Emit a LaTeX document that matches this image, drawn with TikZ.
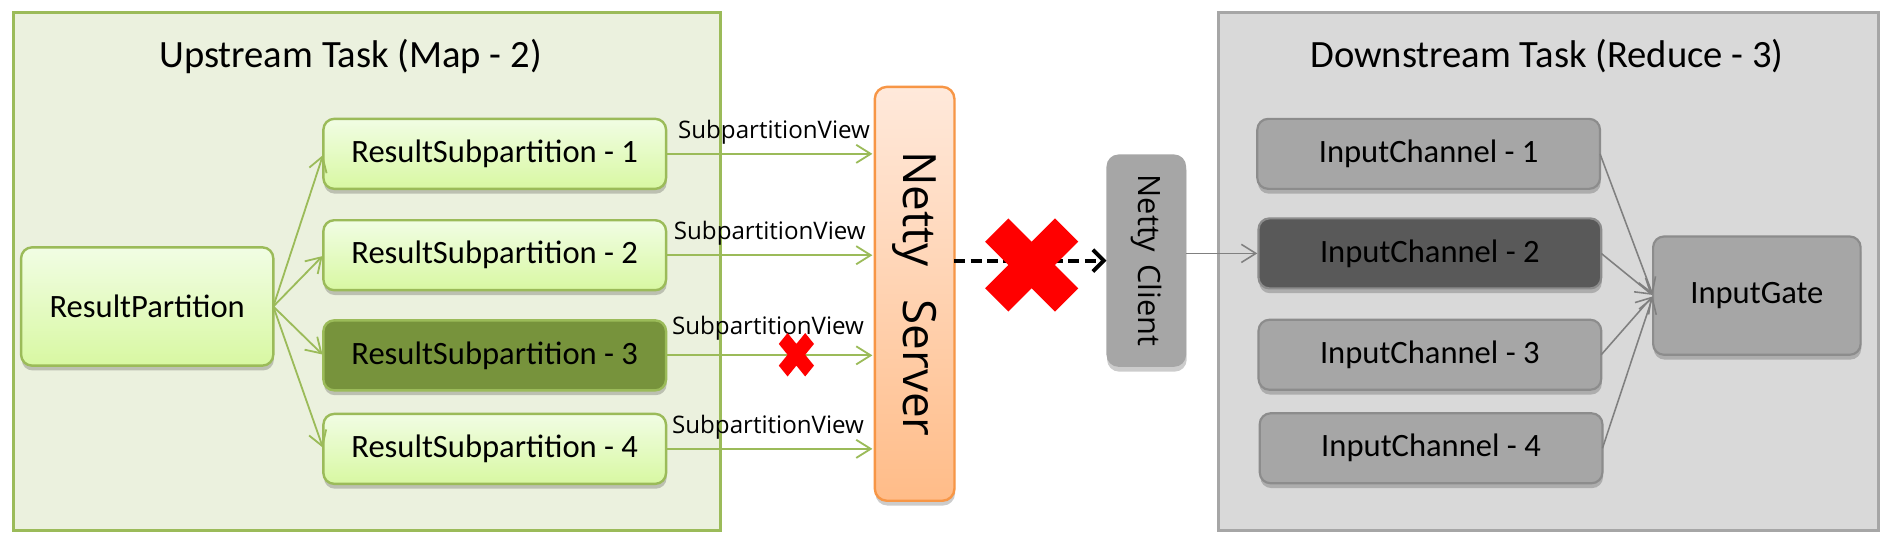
\documentclass[tikz,border=0pt]{standalone}
\usepackage{fontspec}
\setmainfont{Carlito}
\newfontfamily\osans{Open Sans}
\usetikzlibrary{arrows.meta,shadows,calc}
\definecolor{upbg}{HTML}{EBF1DE}
\definecolor{upln}{HTML}{9BBB59}
\definecolor{gtop}{HTML}{F1FDE4}
\definecolor{gbot}{HTML}{D8F8A2}
\definecolor{gdark}{HTML}{77933C}
\definecolor{otop}{HTML}{FFE9DB}
\definecolor{obot}{HTML}{FFBC88}
\definecolor{oln}{HTML}{F79646}
\definecolor{dnbg}{HTML}{D9D9D9}
\definecolor{dnln}{HTML}{A6A6A6}
\definecolor{grayfill}{HTML}{A6A6A6}
\definecolor{graydark}{HTML}{595959}
\definecolor{grayln}{HTML}{8C8C8C}
\definecolor{grayar}{HTML}{808080}
\begin{document}
\begin{tikzpicture}[x=1pt,y=-1pt,
  every node/.style={inner sep=0pt,outer sep=0pt},
  container/.style={line width=2.5pt},
  tasktitle/.style={font=\fontsize{32}{38}\selectfont, anchor=base},
  boxshadow/.style={drop shadow={shadow xshift=0.5pt,shadow yshift=-4pt,opacity=0.2,fill=black}},
  boxtext/.style={font=\fontsize{27}{32}\selectfont},
  gboxbase/.style={draw=upln, line width=2pt, rounded corners=9pt, boxshadow, boxtext},
  gbox/.style={gboxbase, top color=gtop, bottom color=gbot},
  gdbox/.style={gboxbase, fill=gdark},
  subbox/.style={minimum width=284pt, minimum height=58pt},
  cbox/.style={draw=grayln, line width=1.8pt, rounded corners=9pt, boxshadow, boxtext, fill=grayfill},
  cdbox/.style={cbox, fill=graydark},
  svlabel/.style={font=\osans\fontsize{20}{24}\selectfont, anchor=base west},
  garrow/.style={draw=upln, line width=1.5pt, -{Straight Barb[length=12pt,width=15pt]}},
  grarrow/.style={draw=grayar, line width=1.3pt, -{Straight Barb[length=12pt,width=15pt]}},
  dasharrow/.style={draw=black, line width=3.2pt, dash pattern=on 9pt off 4.5pt, -{Straight Barb[length=9pt,width=18pt]}},
]
\useasboundingbox (0,0) rectangle (1568,455.8);
\fill[white] (0,0) rectangle (1568,455.8);

% containers
\node[container, draw=upln, fill=upbg, minimum width=586pt, minimum height=430pt] (up) at (304,225) {};
\node[container, draw=dnln, fill=dnbg, minimum width=547pt, minimum height=430pt] (down) at (1283,225) {};
\node[tasktitle] (uptitle) at (290.5,56) {Upstream Task (Map - 2)};
\node[tasktitle] (downtitle) at (1282,56) {Downstream Task (Reduce - 3)};

% upstream nodes
\node[gbox, minimum width=209pt, minimum height=98pt] (rp) at (122,254) {ResultPartition};
\node[gbox, subbox] (r1) at (410,127.5) {ResultSubpartition - 1};
\node[gbox, subbox] (r2) at (410,211.5) {ResultSubpartition - 2};
\node[gdbox, subbox] (r3) at (410,294.5) {ResultSubpartition - 3};
\node[gbox, subbox] (r4) at (410,372) {ResultSubpartition - 4};

% netty
\node[draw=oln, line width=2pt, rounded corners=10pt, top color=otop, bottom color=obot, boxshadow,
  minimum width=66pt, minimum height=343pt,
  label={[rotate=-90, font=\osans\fontsize{38}{44}\selectfont]center:Netty\hspace{27pt}Server}] (ns) at (758,243.5) {};
\node[fill=grayfill, rounded corners=10pt, boxshadow,
  minimum width=66pt, minimum height=176pt,
  label={[rotate=-90, font=\osans\fontsize{25.5}{30}\selectfont]center:Netty\hspace{10pt}Client}] (nc) at (950,216) {};

% downstream nodes
\node[cbox, subbox] (ic1) at (1184,127.5) {InputChannel - 1};
\node[cdbox, subbox] (ic2) at (1185,210) {InputChannel - 2};
\node[cbox, subbox] (ic3) at (1185,294) {InputChannel - 3};
\node[cbox, subbox] (ic4) at (1186,371.5) {InputChannel - 4};
\node[cbox, minimum width=172pt, minimum height=98pt] (ig) at (1456,245) {InputGate};

% upstream connectors
\foreach \r in {r1,r2,r3,r4}{
  \draw[garrow, shorten >=1pt] (rp.east) -- (\r.west);
}
\draw[garrow, shorten >=2pt] (r1.east) -- (r1.east -| ns.west);
\draw[garrow, shorten >=2pt] (r2.east) -- (r2.east -| ns.west);
\draw[garrow, shorten >=2pt] (r3.east) -- (r3.east -| ns.west);
\draw[garrow, shorten >=2pt] (r4.east) -- (r4.east -| ns.west);
\node[svlabel] (sv1) at ($(r1.east)+(10,-13)$) {SubpartitionView};
\node[svlabel] (sv2) at ($(r2.east)+(6.5,-13)$) {SubpartitionView};
\node[svlabel] (sv3) at ($(r3.east)+(5,-17)$) {SubpartitionView};
\node[svlabel] (sv4) at ($(r4.east)+(5,-13)$) {SubpartitionView};

% small red cross
\fill[red, shift={(660,294)}, xscale=7.3, yscale=9]
  (0,-1) -- (1,-2) -- (2,-1) -- (1,0) -- (2,1) -- (1,2) -- (0,1) -- (-1,2) -- (-2,1) -- (-1,0) -- (-2,-1) -- (-1,-2) -- cycle;

% server to client
\draw[dasharrow] (nc.west -| ns.east) -- (nc.west);
\fill[red, shift={(855,219.6)}, scale=19.3]
  (0,-1) -- (1,-2) -- (2,-1) -- (1,0) -- (2,1) -- (1,2) -- (0,1) -- (-1,2) -- (-2,1) -- (-1,0) -- (-2,-1) -- (-1,-2) -- cycle;

% downstream connectors
\draw[grarrow, shorten >=1pt] (ic2.west -| nc.east) -- (ic2.west);
\foreach \c in {ic1,ic2,ic3,ic4}{
  \draw[grarrow, shorten >=1pt] (\c.east) -- (ig.west);
}
\end{tikzpicture}
\end{document}
